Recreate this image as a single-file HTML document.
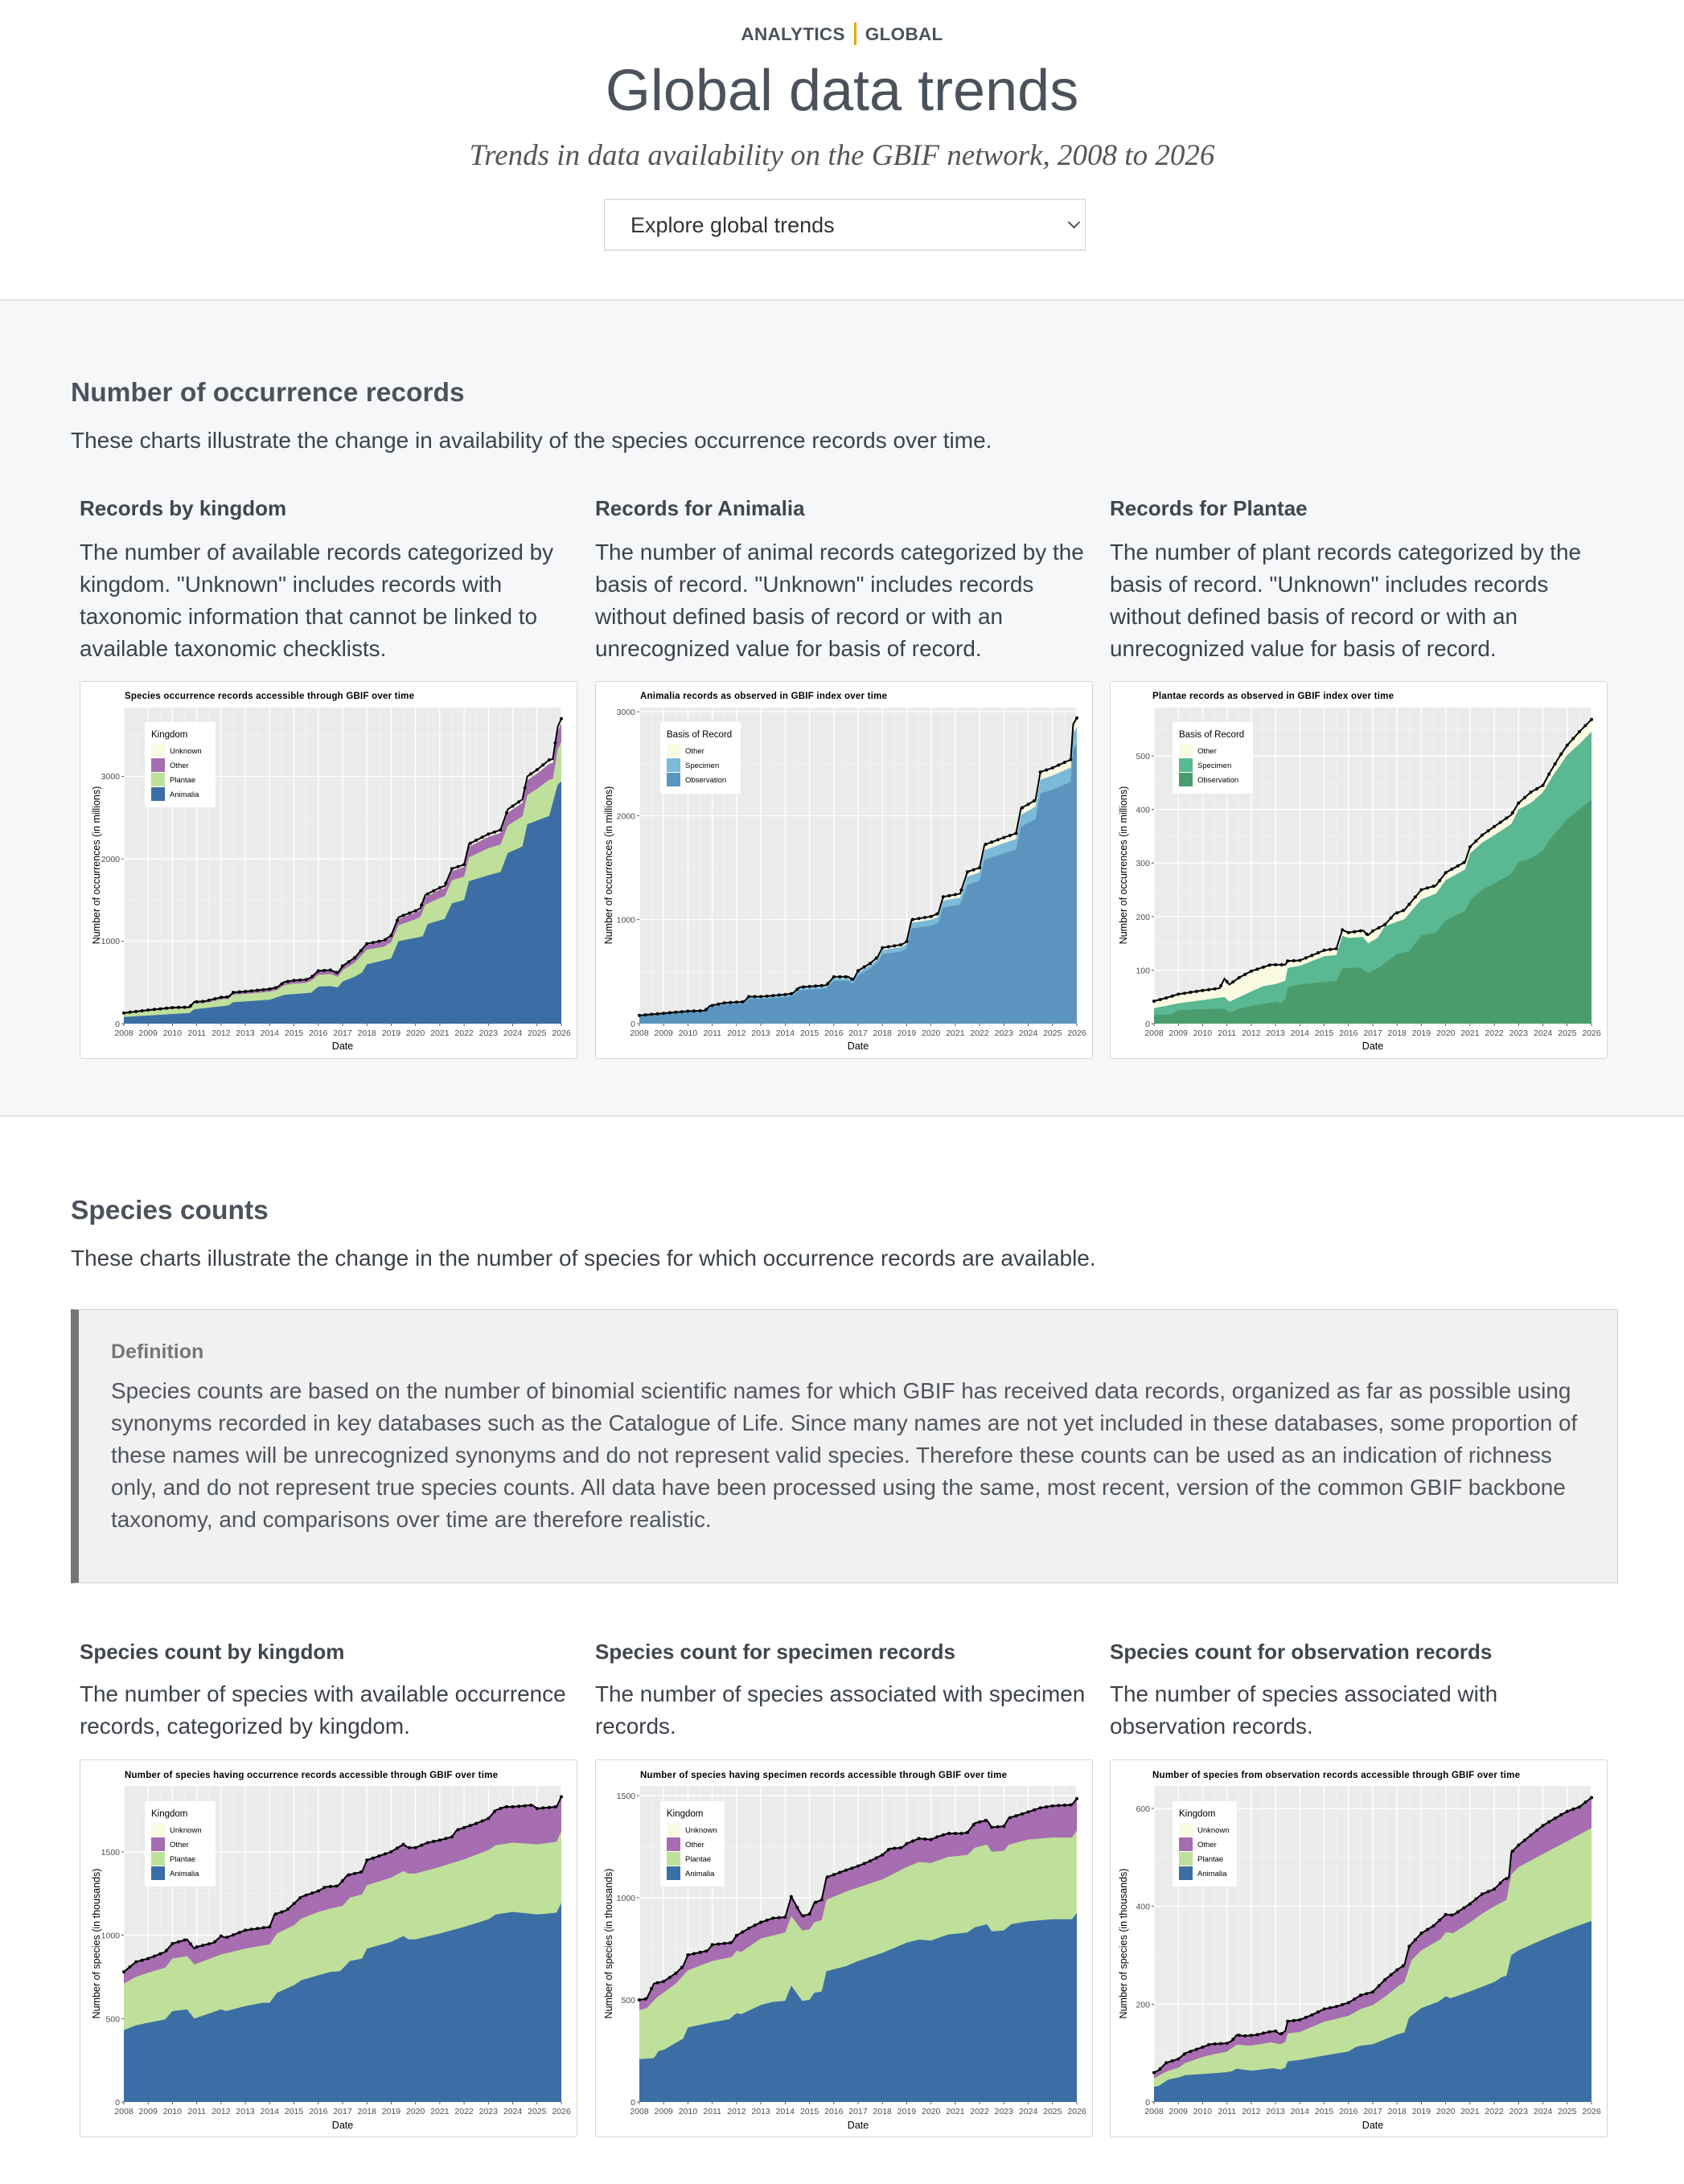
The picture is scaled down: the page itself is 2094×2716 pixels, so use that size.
<!DOCTYPE html>
<html><head><meta charset="utf-8">
<style>
*{margin:0;padding:0;box-sizing:border-box}
body{width:2094px;height:2716px;background:#fff;font-family:"Liberation Sans",Arial,sans-serif;color:#40464e;position:relative;overflow:hidden}
.abs{position:absolute;white-space:nowrap}
.crumb{top:28px;left:0;width:2094px;text-align:center;font-size:22.5px;font-weight:bold;color:#4a525b;letter-spacing:0.3px}
.crumb .sep{display:inline-block;width:3px;height:28px;background:#f0a500;vertical-align:-6px;margin:0 11px}
.title{top:72px;left:0;width:2094px;text-align:center;font-size:72px;color:#4b525b}
.sub{top:172px;left:0;width:2094px;text-align:center;font-family:"Liberation Serif",serif;font-style:italic;font-size:37px;color:#555}
.dd{left:751px;top:247px;width:599px;height:65px;border:1px solid #d6d6d6;border-top:2px solid #e0e0e0;border-bottom:2px solid #e0e0e0;font-size:27px;color:#333;padding:16px 0 0 32px}
.dd .chev{position:absolute;right:8px;top:22px;width:11px;height:11px;border-right:2px solid #555;border-bottom:2px solid #555;transform:rotate(45deg)}
.band{left:0;top:372px;width:2094px;height:1017px;background:#f6f7f9;border-top:2px solid #dfe2e5;border-bottom:2px solid #dfe2e5}
h2{position:absolute;font-size:33.5px;font-weight:bold;color:#4b525b;white-space:nowrap}
.p{font-size:28px;color:#3c424a}
h3{position:absolute;font-size:26px;font-weight:bold;color:#40464e;white-space:nowrap}
.desc{position:absolute;font-size:27.9px;line-height:40px;color:#3c424a;white-space:nowrap}
.card{position:absolute;width:619px;height:470px;background:#fff;border:1.5px solid #d6d6d6;border-radius:3px}
.card svg{position:absolute;left:0;top:0}
.def{left:88px;top:1628px;width:1924px;height:341px;background:#f1f1f1;border:1.5px solid #d0d0d0;border-left:10px solid #757575}
.def .dt{position:absolute;left:40px;top:38px;font-size:25px;font-weight:bold;color:#777}
.def .dx{position:absolute;left:40px;top:81px;font-size:27.9px;line-height:40px;color:#4f555d;white-space:nowrap}
svg text{font-family:"Liberation Sans",Arial,sans-serif}
.tt{font-size:11.5px;font-weight:bold;fill:#000}
.xl{font-size:10.5px;fill:#4d4d4d;text-anchor:middle}
.yl{font-size:10.5px;fill:#4d4d4d;text-anchor:end}
.at{font-size:12.5px;fill:#000;text-anchor:middle}
.lg{font-size:9.5px;fill:#000}
.lgt{font-size:11.5px;fill:#000}
</style></head><body>

<div class="abs crumb">ANALYTICS<span class="sep"></span>GLOBAL</div>
<div class="abs title">Global data trends</div>
<div class="abs sub">Trends in data availability on the GBIF network, 2008 to 2026</div>
<div class="abs dd">Explore global trends<span class="chev"></span></div>

<div class="abs band"></div>
<h2 style="left:88px;top:470px">Number of occurrence records</h2>
<div class="abs p" style="left:88px;top:532px">These charts illustrate the change in availability of the species occurrence records over time.</div>

<h3 style="left:99px;top:617px">Records by kingdom</h3>
<h3 style="left:740px;top:617px">Records for Animalia</h3>
<h3 style="left:1380px;top:617px">Records for Plantae</h3>
<div class="desc" style="left:99px;top:667px">The number of available records categorized by<br>kingdom. "Unknown" includes records with<br>taxonomic information that cannot be linked to<br>available taxonomic checklists.</div>
<div class="desc" style="left:740px;top:667px">The number of animal records categorized by the<br>basis of record. "Unknown" includes records<br>without defined basis of record or with an<br>unrecognized value for basis of record.</div>
<div class="desc" style="left:1380px;top:667px">The number of plant records categorized by the<br>basis of record. "Unknown" includes records<br>without defined basis of record or with an<br>unrecognized value for basis of record.</div>

<!-- Chart 1 -->
<div class="card" style="left:99px;top:847px"><svg id="c1" width="619" height="470">
<g class="plot"></g>
<text class="tt" x="55" y="21" textLength="360">Species occurrence records accessible through GBIF over time</text>
<g class="yax"><text class="yl" x="49" y="429">0</text><text class="yl" x="49" y="326">1000</text><text class="yl" x="49" y="224">2000</text><text class="yl" x="49" y="121">3000</text></g>
<text class="at" transform="translate(24,228) rotate(-90)">Number of occurrences (in millions)</text>
<g class="leg"><rect x="80" y="50" width="88" height="106" fill="#fff"/><text class="lgt" x="88" y="69">Kingdom</text>
<rect x="88" y="77" width="17" height="17" fill="#fafae2"/><rect x="88" y="95" width="17" height="17" fill="#a66db1"/><rect x="88" y="113" width="17" height="17" fill="#bfe09a"/><rect x="88" y="131" width="17" height="17" fill="#3c6ea6"/>
<text class="lg" x="111" y="89">Unknown</text><text class="lg" x="111" y="107">Other</text><text class="lg" x="111" y="125">Plantae</text><text class="lg" x="111" y="143">Animalia</text></g>
<g class="xax"><text class="xl" x="54" y="440">2008</text><text class="xl" x="84.2" y="440">2009</text><text class="xl" x="114.4" y="440">2010</text><text class="xl" x="144.7" y="440">2011</text><text class="xl" x="174.9" y="440">2012</text><text class="xl" x="205.1" y="440">2013</text><text class="xl" x="235.3" y="440">2014</text><text class="xl" x="265.6" y="440">2015</text><text class="xl" x="295.8" y="440">2016</text><text class="xl" x="326" y="440">2017</text><text class="xl" x="356.2" y="440">2018</text><text class="xl" x="386.4" y="440">2019</text><text class="xl" x="416.7" y="440">2020</text><text class="xl" x="446.9" y="440">2021</text><text class="xl" x="477.1" y="440">2022</text><text class="xl" x="507.3" y="440">2023</text><text class="xl" x="537.6" y="440">2024</text><text class="xl" x="567.8" y="440">2025</text><text class="xl" x="598" y="440">2026</text></g>
<text class="at" x="326" y="457">Date</text>
</svg></div>

<!-- Chart 2 -->
<div class="card" style="left:740px;top:847px"><svg id="c2" width="619" height="470">
<g class="plot"></g>
<text class="tt" x="55" y="21" textLength="307">Animalia records as observed in GBIF index over time</text>
<g><text class="yl" x="49" y="429">0</text><text class="yl" x="49" y="299.7">1000</text><text class="yl" x="49" y="170.4">2000</text><text class="yl" x="49" y="41">3000</text></g>
<text class="at" transform="translate(20,228) rotate(-90)">Number of occurrences (in millions)</text>
<g><rect x="80" y="50" width="100" height="89" fill="#fff"/><text class="lgt" x="88" y="69">Basis of Record</text>
<rect x="88" y="77" width="17" height="17" fill="#fafae2"/><rect x="88" y="95" width="17" height="17" fill="#7bbad9"/><rect x="88" y="113" width="17" height="17" fill="#5b94be"/>
<text class="lg" x="111" y="89">Other</text><text class="lg" x="111" y="107">Specimen</text><text class="lg" x="111" y="125">Observation</text></g>
<g class="xax"><text class="xl" x="54" y="440">2008</text><text class="xl" x="84.2" y="440">2009</text><text class="xl" x="114.4" y="440">2010</text><text class="xl" x="144.7" y="440">2011</text><text class="xl" x="174.9" y="440">2012</text><text class="xl" x="205.1" y="440">2013</text><text class="xl" x="235.3" y="440">2014</text><text class="xl" x="265.6" y="440">2015</text><text class="xl" x="295.8" y="440">2016</text><text class="xl" x="326" y="440">2017</text><text class="xl" x="356.2" y="440">2018</text><text class="xl" x="386.4" y="440">2019</text><text class="xl" x="416.7" y="440">2020</text><text class="xl" x="446.9" y="440">2021</text><text class="xl" x="477.1" y="440">2022</text><text class="xl" x="507.3" y="440">2023</text><text class="xl" x="537.6" y="440">2024</text><text class="xl" x="567.8" y="440">2025</text><text class="xl" x="598" y="440">2026</text></g>
<text class="at" x="326" y="457">Date</text>
</svg></div>

<!-- Chart 3 -->
<div class="card" style="left:1380px;top:847px"><svg id="c3" width="619" height="470">
<g class="plot"></g>
<text class="tt" x="52" y="21" textLength="300">Plantae records as observed in GBIF index over time</text>
<g><text class="yl" x="49" y="429">0</text><text class="yl" x="49" y="362.4">100</text><text class="yl" x="49" y="295.8">200</text><text class="yl" x="49" y="229.2">300</text><text class="yl" x="49" y="162.6">400</text><text class="yl" x="49" y="96">500</text></g>
<text class="at" transform="translate(20,228) rotate(-90)">Number of occurrences (in millions)</text>
<g><rect x="77" y="50" width="100" height="89" fill="#fff"/><text class="lgt" x="85" y="69">Basis of Record</text>
<rect x="85" y="77" width="17" height="17" fill="#fafae2"/><rect x="85" y="95" width="17" height="17" fill="#5ab893"/><rect x="85" y="113" width="17" height="17" fill="#4a9c6c"/>
<text class="lg" x="108" y="89">Other</text><text class="lg" x="108" y="107">Specimen</text><text class="lg" x="108" y="125">Observation</text></g>
<g class="xax"><text class="xl" x="54" y="440">2008</text><text class="xl" x="84.2" y="440">2009</text><text class="xl" x="114.4" y="440">2010</text><text class="xl" x="144.7" y="440">2011</text><text class="xl" x="174.9" y="440">2012</text><text class="xl" x="205.1" y="440">2013</text><text class="xl" x="235.3" y="440">2014</text><text class="xl" x="265.6" y="440">2015</text><text class="xl" x="295.8" y="440">2016</text><text class="xl" x="326" y="440">2017</text><text class="xl" x="356.2" y="440">2018</text><text class="xl" x="386.4" y="440">2019</text><text class="xl" x="416.7" y="440">2020</text><text class="xl" x="446.9" y="440">2021</text><text class="xl" x="477.1" y="440">2022</text><text class="xl" x="507.3" y="440">2023</text><text class="xl" x="537.6" y="440">2024</text><text class="xl" x="567.8" y="440">2025</text><text class="xl" x="598" y="440">2026</text></g>
<text class="at" x="326" y="457">Date</text>
</svg></div>

<h2 style="left:88px;top:1487px">Species counts</h2>
<div class="abs p" style="left:88px;top:1549px">These charts illustrate the change in the number of species for which occurrence records are available.</div>

<div class="abs def"><div class="dt">Definition</div><div class="dx">Species counts are based on the number of binomial scientific names for which GBIF has received data records, organized as far as possible using<br>synonyms recorded in key databases such as the Catalogue of Life. Since many names are not yet included in these databases, some proportion of<br>these names will be unrecognized synonyms and do not represent valid species. Therefore these counts can be used as an indication of richness<br>only, and do not represent true species counts. All data have been processed using the same, most recent, version of the common GBIF backbone<br>taxonomy, and comparisons over time are therefore realistic.</div></div>

<h3 style="left:99px;top:2039px">Species count by kingdom</h3>
<h3 style="left:740px;top:2039px">Species count for specimen records</h3>
<h3 style="left:1380px;top:2039px">Species count for observation records</h3>
<div class="desc" style="left:99px;top:2087px">The number of species with available occurrence<br>records, categorized by kingdom.</div>
<div class="desc" style="left:740px;top:2087px">The number of species associated with specimen<br>records.</div>
<div class="desc" style="left:1380px;top:2087px">The number of species associated with<br>observation records.</div>

<!-- Chart 4 -->
<div class="card" style="left:99px;top:2188px"><svg id="c4" width="619" height="470">
<g class="plot"></g>
<text class="tt" x="55" y="22" textLength="464">Number of species having occurrence records accessible through GBIF over time</text>
<g><text class="yl" x="49" y="429">0</text><text class="yl" x="49" y="325.3">500</text><text class="yl" x="49" y="221.6">1000</text><text class="yl" x="49" y="117.9">1500</text></g>
<text class="at" transform="translate(24,228) rotate(-90)">Number of species (in thousands)</text>
<g><rect x="80" y="51" width="88" height="106" fill="#fff"/><text class="lgt" x="88" y="70">Kingdom</text>
<rect x="88" y="78" width="17" height="17" fill="#fafae2"/><rect x="88" y="96" width="17" height="17" fill="#a66db1"/><rect x="88" y="114" width="17" height="17" fill="#bfe09a"/><rect x="88" y="132" width="17" height="17" fill="#3c6ea6"/>
<text class="lg" x="111" y="90">Unknown</text><text class="lg" x="111" y="108">Other</text><text class="lg" x="111" y="126">Plantae</text><text class="lg" x="111" y="144">Animalia</text></g>
<g class="xax"><text class="xl" x="54" y="440">2008</text><text class="xl" x="84.2" y="440">2009</text><text class="xl" x="114.4" y="440">2010</text><text class="xl" x="144.7" y="440">2011</text><text class="xl" x="174.9" y="440">2012</text><text class="xl" x="205.1" y="440">2013</text><text class="xl" x="235.3" y="440">2014</text><text class="xl" x="265.6" y="440">2015</text><text class="xl" x="295.8" y="440">2016</text><text class="xl" x="326" y="440">2017</text><text class="xl" x="356.2" y="440">2018</text><text class="xl" x="386.4" y="440">2019</text><text class="xl" x="416.7" y="440">2020</text><text class="xl" x="446.9" y="440">2021</text><text class="xl" x="477.1" y="440">2022</text><text class="xl" x="507.3" y="440">2023</text><text class="xl" x="537.6" y="440">2024</text><text class="xl" x="567.8" y="440">2025</text><text class="xl" x="598" y="440">2026</text></g>
<text class="at" x="326" y="458">Date</text>
</svg></div>

<!-- Chart 5 -->
<div class="card" style="left:740px;top:2188px"><svg id="c5" width="619" height="470">
<g class="plot"></g>
<text class="tt" x="55" y="22" textLength="456">Number of species having specimen records accessible through GBIF over time</text>
<g><text class="yl" x="49" y="429">0</text><text class="yl" x="49" y="302">500</text><text class="yl" x="49" y="175">1000</text><text class="yl" x="49" y="48">1500</text></g>
<text class="at" transform="translate(20,228) rotate(-90)">Number of species (in thousands)</text>
<g><rect x="80" y="51" width="80" height="106" fill="#fff"/><text class="lgt" x="88" y="70">Kingdom</text>
<rect x="88" y="78" width="17" height="17" fill="#fafae2"/><rect x="88" y="96" width="17" height="17" fill="#a66db1"/><rect x="88" y="114" width="17" height="17" fill="#bfe09a"/><rect x="88" y="132" width="17" height="17" fill="#3c6ea6"/>
<text class="lg" x="111" y="90">Unknown</text><text class="lg" x="111" y="108">Other</text><text class="lg" x="111" y="126">Plantae</text><text class="lg" x="111" y="144">Animalia</text></g>
<g class="xax"><text class="xl" x="54" y="440">2008</text><text class="xl" x="84.2" y="440">2009</text><text class="xl" x="114.4" y="440">2010</text><text class="xl" x="144.7" y="440">2011</text><text class="xl" x="174.9" y="440">2012</text><text class="xl" x="205.1" y="440">2013</text><text class="xl" x="235.3" y="440">2014</text><text class="xl" x="265.6" y="440">2015</text><text class="xl" x="295.8" y="440">2016</text><text class="xl" x="326" y="440">2017</text><text class="xl" x="356.2" y="440">2018</text><text class="xl" x="386.4" y="440">2019</text><text class="xl" x="416.7" y="440">2020</text><text class="xl" x="446.9" y="440">2021</text><text class="xl" x="477.1" y="440">2022</text><text class="xl" x="507.3" y="440">2023</text><text class="xl" x="537.6" y="440">2024</text><text class="xl" x="567.8" y="440">2025</text><text class="xl" x="598" y="440">2026</text></g>
<text class="at" x="326" y="458">Date</text>
</svg></div>

<!-- Chart 6 -->
<div class="card" style="left:1380px;top:2188px"><svg id="c6" width="619" height="470">
<g class="plot"></g>
<text class="tt" x="52" y="22" textLength="457">Number of species from observation records accessible through GBIF over time</text>
<g><text class="yl" x="49" y="429">0</text><text class="yl" x="49" y="307.3">200</text><text class="yl" x="49" y="185.6">400</text><text class="yl" x="49" y="63.9">600</text></g>
<text class="at" transform="translate(20,228) rotate(-90)">Number of species (in thousands)</text>
<g><rect x="77" y="51" width="80" height="106" fill="#fff"/><text class="lgt" x="85" y="70">Kingdom</text>
<rect x="85" y="78" width="17" height="17" fill="#fafae2"/><rect x="85" y="96" width="17" height="17" fill="#a66db1"/><rect x="85" y="114" width="17" height="17" fill="#bfe09a"/><rect x="85" y="132" width="17" height="17" fill="#3c6ea6"/>
<text class="lg" x="108" y="90">Unknown</text><text class="lg" x="108" y="108">Other</text><text class="lg" x="108" y="126">Plantae</text><text class="lg" x="108" y="144">Animalia</text></g>
<g class="xax"><text class="xl" x="54" y="440">2008</text><text class="xl" x="84.2" y="440">2009</text><text class="xl" x="114.4" y="440">2010</text><text class="xl" x="144.7" y="440">2011</text><text class="xl" x="174.9" y="440">2012</text><text class="xl" x="205.1" y="440">2013</text><text class="xl" x="235.3" y="440">2014</text><text class="xl" x="265.6" y="440">2015</text><text class="xl" x="295.8" y="440">2016</text><text class="xl" x="326" y="440">2017</text><text class="xl" x="356.2" y="440">2018</text><text class="xl" x="386.4" y="440">2019</text><text class="xl" x="416.7" y="440">2020</text><text class="xl" x="446.9" y="440">2021</text><text class="xl" x="477.1" y="440">2022</text><text class="xl" x="507.3" y="440">2023</text><text class="xl" x="537.6" y="440">2024</text><text class="xl" x="567.8" y="440">2025</text><text class="xl" x="598" y="440">2026</text></g>
<text class="at" x="326" y="458">Date</text>
</svg></div>

<script>
(function(){
var L=54,R=598,T=32,B=425;
function X(t){return L+(t-2008)/18*(R-L);}
function pairs(a){var r=[];for(var i=0;i<a.length;i+=2)r.push([a[i],a[i+1]]);return r;}
function interp(p,t){if(t<=p[0][0])return p[0][1];for(var i=1;i<p.length;i++){if(t<=p[i][0]){var a=p[i-1],b=p[i];return a[1]+(b[1]-a[1])*(t-a[0])/(b[0]-a[0]);}}return p[p.length-1][1];}
function scale(p,f){return p.map(function(q){return [q[0],q[1]*f];});}
function draw(id,k,ticks,layers,total){
  var svg=document.getElementById(id),g=svg.querySelector('.plot');
  function Y(v){return B-v*k;}
  var s='<rect x="'+L+'" y="'+T+'" width="'+(R-L)+'" height="'+(B-T)+'" fill="#ebebeb"/>';
  var step=ticks[1]-ticks[0];
  for(var v=ticks[0]+step/2;Y(v)>T;v+=step){s+='<line x1="'+L+'" x2="'+R+'" y1="'+Y(v)+'" y2="'+Y(v)+'" stroke="#f7f7f7" stroke-width="0.7"/>';}
  ticks.forEach(function(v){s+='<line x1="'+L+'" x2="'+R+'" y1="'+Y(v)+'" y2="'+Y(v)+'" stroke="#fff" stroke-width="1.4"/>';});
  for(var y=2008;y<=2026;y+=0.5){var w=(y%1===0)?1.4:0.7;s+='<line x1="'+X(y)+'" x2="'+X(y)+'" y1="'+T+'" y2="'+B+'" stroke="'+(w>1?'#fff':'#f7f7f7')+'" stroke-width="'+w+'"/>';}
  layers.forEach(function(ly){
    var p=ly[1],d='M'+X(p[0][0])+','+B;
    p.forEach(function(q){d+=' L'+X(q[0]).toFixed(1)+','+Y(q[1]).toFixed(1);});
    d+=' L'+X(p[p.length-1][0])+','+B+' Z';
    s+='<path d="'+d+'" fill="'+ly[0]+'"/>';
  });
  var pts=[];for(var t=2008;t<=2026.001;t+=0.25){pts.push([t,interp(total,t)]);}
  var d2='';total.forEach(function(q,i){d2+=(i?' L':'M')+X(q[0]).toFixed(1)+','+Y(q[1]).toFixed(1);});
  s+='<path d="'+d2+'" fill="none" stroke="#000" stroke-width="2"/>';
  pts.forEach(function(q){s+='<circle cx="'+X(q[0]).toFixed(1)+'" cy="'+Y(q[1]).toFixed(1)+'" r="2" fill="#000"/>';});
  ticks.forEach(function(v){s+='<line x1="'+(L-3)+'" x2="'+L+'" y1="'+Y(v)+'" y2="'+Y(v)+'" stroke="#333" stroke-width="0.8"/>';});
  for(var y2=2008;y2<=2026;y2++){s+='<line x1="'+X(y2)+'" x2="'+X(y2)+'" y1="'+B+'" y2="'+(B+3)+'" stroke="#333" stroke-width="0.8"/>';}
  g.innerHTML=s;
}
var UNK='#fafae2',OTH='#a66db1',PLA='#bfe09a',ANI='#3c6ea6';
var t1=pairs([2008,130,2009,165,2010,195,2010.7,200,2010.9,265,2011.3,270,2012,320,2012.3,325,2012.5,380,2013,390,2014,420,2014.3,440,2014.6,505,2015,525,2015.5,535,2015.7,560,2016,640,2016.5,650,2016.8,615,2017,700,2017.5,800,2018,970,2018.7,1010,2019,1070,2019.3,1290,2020,1370,2020.2,1400,2020.4,1560,2021,1650,2021.2,1670,2021.5,1880,2022,1930,2022.2,2180,2023,2300,2023.5,2350,2023.8,2600,2024.4,2720,2024.6,3000,2025,3080,2025.5,3200,2025.65,3210,2025.85,3600,2026,3700]);
var a1=pairs([2008,80,2010.7,130,2010.9,175,2012.3,220,2012.5,260,2014,290,2014.6,350,2015.7,375,2016,450,2016.5,455,2016.8,440,2017,510,2017.5,570,2017.8,620,2018,720,2019,790,2019.3,1000,2020.3,1060,2020.5,1210,2021.2,1270,2021.5,1460,2022,1500,2022.2,1730,2023,1800,2023.5,1840,2023.8,2070,2024.4,2150,2024.6,2420,2025.5,2520,2025.85,2900,2026,2940]);
draw('c1',0.1025,[0,1000,2000,3000],[[UNK,t1],[OTH,scale(t1,0.985)],[PLA,scale(t1,0.925)],[ANI,a1]],t1);
var t2=pairs([2008,80,2009,100,2010,120,2010.7,125,2010.9,170,2011.5,200,2012.3,210,2012.5,260,2013,260,2013.5,270,2014,280,2014.3,290,2014.6,350,2015.7,370,2016,450,2016.6,450,2016.8,420,2017,510,2017.5,580,2017.8,640,2018,730,2018.8,760,2019,790,2019.2,1000,2020,1030,2020.3,1060,2020.5,1220,2021.2,1250,2021.5,1460,2022,1500,2022.2,1720,2023,1790,2023.5,1830,2023.7,2070,2024.3,2150,2024.5,2420,2025,2460,2025.75,2540,2025.85,2880,2026,2940]);
draw('c2',0.1293,[0,1000,2000,3000],[[UNK,t2],['#7bbad9',scale(t2,0.97)],['#5b94be',scale(t2,0.915)]],t2);
var t3=pairs([2008,42,2008.5,48,2009,55,2010,62,2010.7,66,2010.9,84,2011.1,73,2011.5,86,2012,98,2012.8,110,2013.4,110,2013.5,117,2014,118,2015,137,2015.5,140,2015.75,175,2016,170,2016.6,174,2016.8,165,2017,173,2017.5,185,2017.9,205,2018.3,212,2019,250,2019.6,258,2020,282,2020.8,302,2021,330,2021.5,352,2022,368,2022.7,390,2023,412,2023.5,432,2024,445,2024.3,470,2024.7,500,2025,520,2025.5,545,2026,568]);
var s3=pairs([2008,29,2009,38,2010,44,2010.9,50,2011.1,41,2012,60,2012.5,70,2013,74,2013.4,80,2013.5,104,2014,108,2015,126,2015.5,128,2015.75,164,2016,160,2016.6,162,2016.8,150,2017.2,160,2017.5,182,2018.3,195,2019,232,2019.6,243,2020,268,2020.8,288,2021,318,2021.5,338,2022,352,2022.7,373,2023,400,2023.5,412,2024,432,2024.4,462,2025,502,2025.5,522,2026,545]);
var o3=pairs([2008,16,2008.7,17,2009,25,2010,27,2010.9,28,2011.1,20,2011.5,28,2012,33,2013,41,2013.2,38,2013.4,45,2013.5,68,2014,73,2015,78,2015.5,80,2015.75,103,2016.5,105,2016.8,94,2017.3,106,2018,130,2018.5,135,2019,165,2019.6,170,2020,193,2020.8,210,2021,230,2021.5,250,2022,262,2022.7,280,2023,302,2023.5,308,2024,323,2024.3,345,2025,382,2026,418]);
draw('c3',0.666,[0,100,200,300,400,500],[[UNK,t3],['#5ab893',s3],['#4a9c6c',o3]],t3);
var t4=pairs([2008,780,2008.5,840,2009,860,2009.7,900,2010,950,2010.6,975,2010.9,920,2011,930,2011.7,955,2012,995,2012.2,985,2013,1030,2014,1050,2014.2,1125,2014.7,1150,2015,1190,2015.3,1230,2016,1265,2016.3,1290,2016.8,1295,2017.2,1360,2017.8,1380,2018,1450,2019,1500,2019.5,1545,2019.7,1525,2020,1525,2020.5,1555,2021,1570,2021.5,1590,2021.7,1630,2022.5,1670,2023,1700,2023.3,1750,2023.7,1770,2024,1770,2024.8,1780,2025,1760,2025.8,1770,2026,1830]);
var p4=pairs([2008,710,2008.5,750,2009,775,2009.7,805,2010,860,2010.6,875,2010.9,825,2011,830,2012,885,2013,920,2014,945,2014.3,1010,2015,1060,2015.3,1100,2016,1140,2016.5,1160,2017,1175,2017.3,1225,2017.8,1245,2018,1300,2019,1345,2019.5,1385,2019.7,1370,2020,1370,2021,1410,2022,1455,2023,1510,2023.3,1540,2024,1555,2025,1545,2025.8,1560,2026,1625]);
var a4=pairs([2008,430,2008.5,460,2009,475,2009.7,495,2010,545,2010.6,555,2010.9,500,2012,555,2012.2,545,2013,575,2013.7,595,2014,595,2014.3,655,2015,700,2015.3,730,2016,760,2016.5,780,2016.9,785,2017,800,2017.3,845,2017.8,860,2018,920,2019,960,2019.5,995,2019.7,975,2020,975,2021,1010,2022,1050,2023,1095,2023.3,1125,2024,1140,2025,1125,2025.8,1135,2026,1195]);
draw('c4',0.2074,[0,500,1000,1500],[[UNK,t4],[OTH,scale(t4,0.998)],[PLA,p4],[ANI,a4]],t4);
var t5=pairs([2008,500,2008.3,505,2008.6,580,2009,590,2009.5,630,2009.8,665,2010,720,2010.8,740,2011,770,2011.8,780,2012,815,2012.5,850,2013,880,2013.5,900,2014,905,2014.25,1005,2014.7,910,2015,920,2015.2,975,2015.5,990,2015.7,1100,2016.5,1135,2017,1155,2017.5,1180,2018,1210,2018.3,1240,2018.8,1245,2019,1265,2019.5,1290,2020,1285,2020.3,1300,2020.7,1315,2021.3,1315,2021.5,1320,2021.8,1365,2022.3,1380,2022.5,1345,2023,1350,2023.2,1390,2024,1420,2024.5,1440,2025,1450,2025.8,1455,2026,1485]);
var p5=pairs([2008,450,2008.3,460,2008.7,510,2009.5,580,2010,645,2011,690,2011.8,710,2012,740,2012.2,735,2013,800,2014,830,2014.25,910,2014.7,840,2015,845,2015.2,880,2015.5,890,2015.7,990,2016.5,1030,2017,1050,2018,1090,2019,1150,2019.5,1175,2020,1170,2020.7,1200,2021.5,1210,2021.8,1245,2022.3,1260,2022.5,1225,2023,1230,2023.2,1260,2024,1285,2025,1295,2025.8,1295,2026,1330]);
var a5=pairs([2008,210,2008.6,215,2008.8,250,2009,255,2009.8,310,2010,365,2011,390,2011.7,405,2012,435,2012.2,430,2013,475,2013.5,490,2014,495,2014.25,570,2014.7,495,2015,500,2015.2,535,2015.5,540,2015.7,640,2016.5,665,2017,690,2018,730,2019,780,2019.5,795,2020,790,2020.7,820,2021.5,830,2021.8,855,2022.3,870,2022.5,835,2023,840,2023.3,870,2024,885,2025,895,2025.8,895,2026,925]);
draw('c5',0.254,[0,500,1000,1500],[[UNK,t5],[OTH,scale(t5,0.998)],[PLA,p5],[ANI,a5]],t5);
var t6=pairs([2008,60,2008.2,65,2008.5,80,2009,88,2009.3,100,2010,112,2010.3,118,2011,120,2011.2,125,2011.4,137,2011.7,135,2012.2,137,2012.7,143,2013,145,2013.2,138,2013.4,145,2013.5,165,2014,168,2014.5,178,2015,190,2015.5,195,2016,203,2016.5,218,2017,225,2017.5,250,2018,270,2018.3,280,2018.5,318,2019,345,2019.5,360,2020,383,2020.3,382,2021,405,2021.5,425,2022,435,2022.4,455,2022.6,458,2022.7,510,2023,525,2023.5,545,2024,565,2024.5,580,2025,594,2025.5,603,2026,622]);
var p6=pairs([2008,48,2008.5,62,2009,70,2009.3,80,2010,92,2010.5,98,2011,103,2011.4,117,2012,115,2012.8,122,2013.2,118,2013.4,123,2013.5,140,2014,143,2015,164,2016,176,2016.5,190,2017,198,2017.5,215,2018,235,2018.3,245,2018.6,290,2019,310,2019.8,333,2020,347,2020.3,345,2021,367,2021.5,385,2022,400,2022.5,413,2022.7,465,2023,480,2024,507,2025,533,2026,560]);
var a6=pairs([2008,31,2008.2,33,2008.6,46,2009,50,2009.3,55,2010,57,2011,61,2011.2,63,2011.4,68,2012,64,2012.9,69,2013.2,66,2013.4,70,2013.5,83,2014,86,2015,95,2016,103,2016.3,112,2016.5,115,2017,118,2017.5,128,2018,138,2018.3,142,2018.5,173,2019,192,2019.7,205,2020,216,2020.2,212,2021,226,2022,245,2022.3,255,2022.5,258,2022.7,300,2023,310,2024,332,2025,352,2026,370]);
draw('c6',0.6085,[0,200,400,600],[[UNK,t6],[OTH,scale(t6,0.998)],[PLA,p6],[ANI,a6]],t6);
})();
</script>
</body></html>
